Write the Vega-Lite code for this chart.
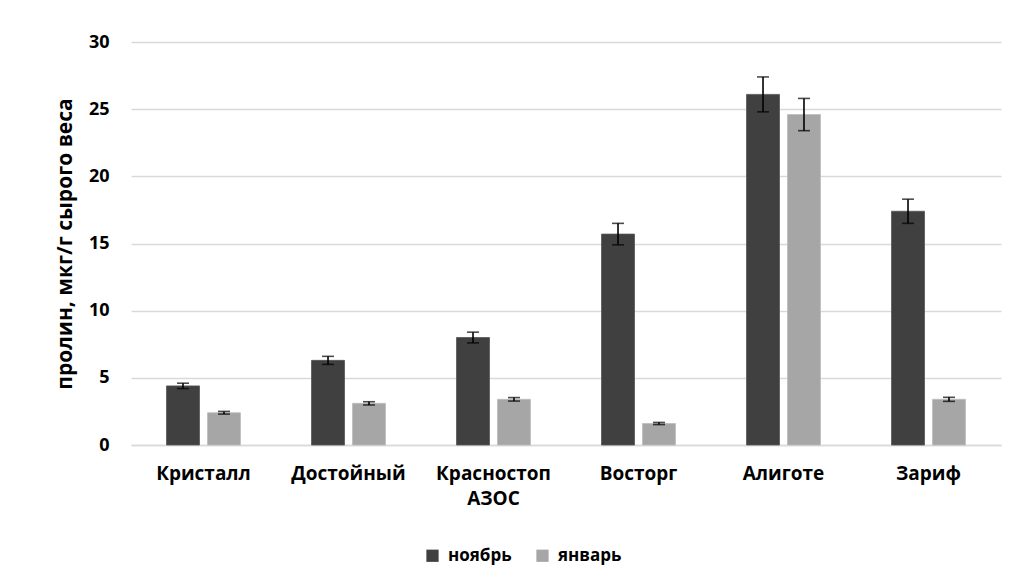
{
  "$schema": "https://vega.github.io/schema/vega-lite/v6.json",
  "autosize": {"type": "none"},
  "width": 870,
  "height": 403,
  "padding": {"left": 131, "top": 42, "right": 24, "bottom": 142},
  "background": "white",
  "config": {
    "font": "Open Sans",
    "view": {"stroke": null},
    "axis": {"labelFont": "Open Sans", "titleFont": "Open Sans"},
    "legend": {"labelFont": "Open Sans"}
  },
  "data": {
    "values": [
      {"sort": "Кристалл", "month": "ноябрь", "value": 4.4, "lo": 4.2, "hi": 4.6},
      {"sort": "Кристалл", "month": "январь", "value": 2.4, "lo": 2.3, "hi": 2.5},
      {"sort": "Достойный", "month": "ноябрь", "value": 6.3, "lo": 6.0, "hi": 6.6},
      {"sort": "Достойный", "month": "январь", "value": 3.1, "lo": 2.98, "hi": 3.22},
      {"sort": "Красностоп АЗОС", "month": "ноябрь", "value": 8.0, "lo": 7.6, "hi": 8.4},
      {"sort": "Красностоп АЗОС", "month": "январь", "value": 3.4, "lo": 3.27, "hi": 3.53},
      {"sort": "Восторг", "month": "ноябрь", "value": 15.7, "lo": 14.9, "hi": 16.5},
      {"sort": "Восторг", "month": "январь", "value": 1.6, "lo": 1.52, "hi": 1.68},
      {"sort": "Алиготе", "month": "ноябрь", "value": 26.1, "lo": 24.8, "hi": 27.4},
      {"sort": "Алиготе", "month": "январь", "value": 24.6, "lo": 23.4, "hi": 25.8},
      {"sort": "Зариф", "month": "ноябрь", "value": 17.4, "lo": 16.5, "hi": 18.3},
      {"sort": "Зариф", "month": "январь", "value": 3.4, "lo": 3.25, "hi": 3.55}
    ]
  },
  "encoding": {
    "x": {
      "field": "sort",
      "type": "nominal",
      "sort": null,
      "scale": {"paddingInner": 0.49, "paddingOuter": 0.245},
      "axis": {
        "title": null,
        "labelAngle": 0,
        "labelFontSize": 19,
        "labelFontWeight": "bold",
        "labelColor": "#000000",
        "labelPadding": 19,
        "labelLineHeight": 25,
        "labelExpr": "indexof(datum.value, ' ') > 0 ? split(datum.value, ' ') : datum.value",
        "ticks": false,
        "domainColor": "#d9d9d9",
        "domainWidth": 1.5,
        "grid": false
      }
    },
    "xOffset": {
      "field": "month",
      "type": "nominal",
      "sort": ["ноябрь", "январь"],
      "scale": {"paddingInner": 0.195, "paddingOuter": 0}
    }
  },
  "layer": [
    {
      "mark": {"type": "bar", "strokeWidth": 0.8},
      "encoding": {
        "y": {
          "field": "value",
          "type": "quantitative",
          "scale": {"domain": [0, 30]},
          "axis": {
            "title": "пролин, мкг/г сырого веса",
            "titleFontSize": 21,
            "titleFontWeight": "bold",
            "titleColor": "#000000",
            "titlePadding": 13,
            "values": [0, 5, 10, 15, 20, 25, 30],
            "labelFontSize": 18,
            "labelFontWeight": "bold",
            "labelColor": "#000000",
            "labelPadding": 22,
            "ticks": false,
            "domain": false,
            "gridColor": "#d9d9d9",
            "gridWidth": 1.5
          }
        },
        "color": {
          "field": "month",
          "type": "nominal",
          "sort": ["ноябрь", "январь"],
          "scale": {"domain": ["ноябрь", "январь"], "range": ["#404040", "#a6a6a6"]},
          "legend": {
            "title": null,
            "orient": "none",
            "legendX": 293,
            "legendY": 505,
            "direction": "horizontal",
            "symbolType": "square",
            "symbolSize": 150,
            "symbolStrokeWidth": 0,
            "labelFontSize": 17,
            "labelFontWeight": "bold",
            "labelColor": "#000000",
            "labelOffset": 7,
            "columnPadding": 22
          }
        },
        "stroke": {
          "field": "month",
          "type": "nominal",
          "scale": {"domain": ["ноябрь", "январь"], "range": ["#555555", "#bdbdbd"]},
          "legend": null
        }
      }
    },
    {
      "mark": {"type": "rule", "color": "#000000", "strokeWidth": 1.6},
      "encoding": {
        "y": {"field": "lo", "type": "quantitative"},
        "y2": {"field": "hi"}
      }
    },
    {
      "mark": {"type": "tick", "color": "#000000", "size": 12, "thickness": 1.6, "orient": "horizontal"},
      "encoding": {
        "y": {"field": "lo", "type": "quantitative"}
      }
    },
    {
      "mark": {"type": "tick", "color": "#000000", "size": 12, "thickness": 1.6, "orient": "horizontal"},
      "encoding": {
        "y": {"field": "hi", "type": "quantitative"}
      }
    }
  ]
}
